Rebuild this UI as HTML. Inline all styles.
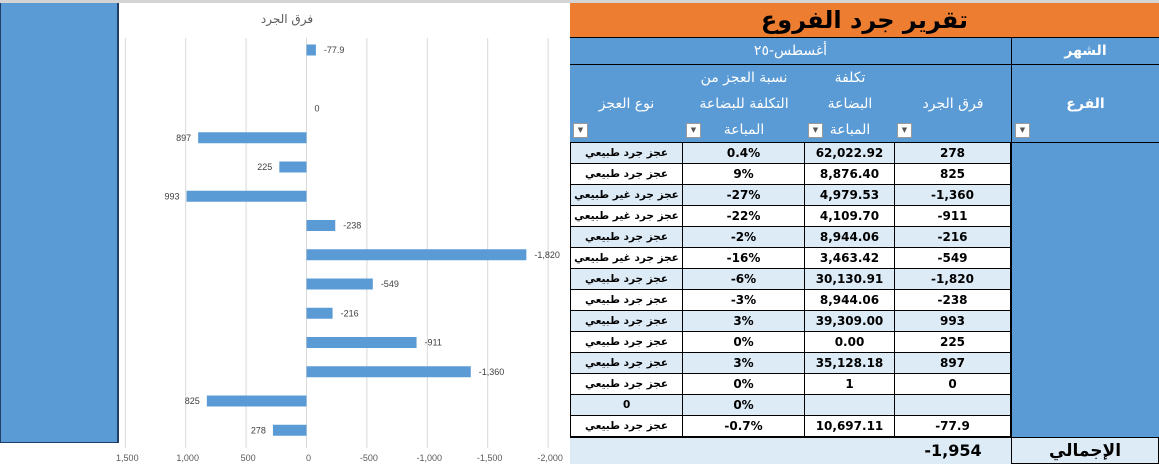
<!DOCTYPE html>
<html><head><meta charset="utf-8">
<style>
body{margin:0;width:1159px;height:464px;overflow:hidden;background:#fff;position:relative;font-family:"DejaVu Sans","Liberation Sans",sans-serif}
.abs{position:absolute;box-sizing:border-box}
.cell{position:absolute;box-sizing:border-box;display:flex;align-items:center;justify-content:center;font-size:12px;font-weight:bold;color:#000;border-right:1px solid #000;border-bottom:1px solid #000;white-space:nowrap;overflow:hidden}
.hd{position:absolute;box-sizing:border-box;color:#fff;font-size:14px;text-align:center;line-height:26px;border-left:1px solid #000}
.dd{position:absolute;width:15px;height:15px;background:#fff;border:1px solid #999;box-sizing:border-box;font-size:7px;color:#555;text-align:center;line-height:13px}
svg{overflow:visible}
</style></head><body>
<div class="abs" style="left:0;top:0;width:1159px;height:3px;background:#d4d4d4"></div>
<div class="abs" style="left:0;top:3px;width:119px;height:440px;background:#5b9bd5;border-right:2px solid #1f3f66;border-left:1px solid #1f3f66;border-bottom:1px solid #1f3f66"></div>
<svg class="abs" id="chart" style="left:119px;top:3px" width="451" height="461"></svg>

<div class="abs" style="left:570px;top:3px;width:589px;height:34px;background:#ed7d31;text-align:center;font-size:24px;font-weight:bold;line-height:34px" dir="rtl">تقرير جرد الفروع</div>
<div class="abs" style="left:570px;top:37px;width:589px;height:28px;background:#5b9bd5;border-top:1px solid #000;border-bottom:1px solid #000"></div>
<div class="hd" style="left:570px;top:38px;width:441px;border:none">أغسطس-٢٥</div>
<div class="hd" style="left:1011px;top:38px;width:148px;font-weight:bold">الشهر</div>
<div class="abs" style="left:570px;top:65px;width:589px;height:78px;background:#5b9bd5;border-bottom:1px solid #000"></div>
<div class="hd" style="left:1011px;top:65px;width:148px;height:78px;line-height:78px;font-weight:bold">الفرع</div>
<div class="hd" style="left:895px;top:65px;width:116px;height:78px;line-height:78px;border:none">فرق الجرد</div>
<div class="hd" style="left:805px;top:65px;width:90px;height:78px;line-height:26px;border:none">تكلفة<br>البضاعة<br>المباعة</div>
<div class="hd" style="left:683px;top:65px;width:122px;height:78px;line-height:26px;border:none">نسبة العجز من<br>التكلفة للبضاعة<br>المباعة</div>
<div class="hd" style="left:570px;top:65px;width:113px;height:78px;line-height:78px;border:none">نوع العجز</div>
<div class="dd" style="left:1015px;top:123px">▼</div>
<div class="dd" style="left:897px;top:123px">▼</div>
<div class="dd" style="left:808px;top:123px">▼</div>
<div class="dd" style="left:686px;top:123px">▼</div>
<div class="dd" style="left:573px;top:123px">▼</div>
<div class="abs" style="left:1011px;top:143px;width:148px;height:294px;background:#5b9bd5;border-left:1px solid #000"></div>
<div id="rows"></div>
<div class="abs" style="left:570px;top:437px;width:589px;height:27px;background:#ddebf7;border-top:1px solid #000"></div>
<div class="abs" style="left:895px;top:437px;width:116px;height:27px;line-height:27px;text-align:center;font-size:16px;font-weight:bold">-1,954</div>
<div class="abs" style="left:1011px;top:437px;width:148px;height:27px;line-height:27px;text-align:center;font-size:17px;font-weight:bold;border:1px solid #000">الإجمالي</div>

<script>
const diffs=["278","825","-1,360","-911","-216","-549","-1,820","-238","993","225","897","0","","-77.9"];
const costs=["62,022.92","8,876.40","4,979.53","4,109.70","8,944.06","3,463.42","30,130.91","8,944.06","39,309.00","0.00","35,128.18","1","","10,697.11"];
const ratios=["0.4%","9%","-27%","-22%","-2%","-16%","-6%","-3%","3%","0%","3%","0%","0%","-0.7%"];
const types=["عجز جرد طبيعي","عجز جرد طبيعي","عجز جرد غير طبيعي","عجز جرد غير طبيعي","عجز جرد طبيعي","عجز جرد غير طبيعي","عجز جرد طبيعي","عجز جرد طبيعي","عجز جرد طبيعي","عجز جرد طبيعي","عجز جرد طبيعي","عجز جرد طبيعي","0","عجز جرد طبيعي"];
// chart data (top to bottom)
const cats=["-77.9","","0","897","225","993","-238","-1,820","-549","-216","-911","-1,360","825","278"];
const vals=[-77.9,null,0,897,225,993,-238,-1820,-549,-216,-911,-1360,825,278];
const ticks=[1500,1000,500,0,-500,-1000,-1500,-2000];

const rowsEl=document.getElementById('rows');
const cols=[[895,116,diffs,'diff'],[805,90,costs,'cost'],[683,122,ratios,'ratio'],[570,113,types,'type']];
for(let i=0;i<diffs.length;i++){
  const y=143+i*21;
  cols.forEach(c=>{
    const d=document.createElement('div');
    d.className='cell';
    
    
    d.style.cssText=`left:${c[0]}px;top:${y}px;width:${c[1]}px;height:21px;background:${i%2?'#fff':'#ddebf7'};${c[0]==570?'border-left:1px solid #000;font-size:10.5px;letter-spacing:-0.3px;':''}`;
    d.textContent=c[2][i];
    rowsEl.appendChild(d);
  });
}
const NS='http://www.w3.org/2000/svg';
const svg=document.getElementById('chart');
const ox=119,oy=3;
const xs=v=>306.5-v*0.1208-ox;
const ys=i=>50+i*29.25-oy;
function el(t,a){const e=document.createElementNS(NS,t);for(const k in a)e.setAttribute(k,a[k]);svg.appendChild(e);return e;}
ticks.forEach(t=>{
  const g=el('line',{x1:xs(t),x2:xs(t),y1:35,y2:445,stroke:'#d9d9d9','stroke-width':1});
  
  
  const tx=el('text',{x:xs(t)+2,y:458,'text-anchor':'middle','font-size':9,fill:'#595959','font-family':'Liberation Sans, sans-serif'});
  
  
  tx.textContent=t.toLocaleString('en-US');
});
const ttl=el('text',{x:168,y:20,'text-anchor':'middle','font-size':12,fill:'#595959','font-family':'DejaVu Sans, sans-serif'});


ttl.textContent='فرق الجرد';
vals.forEach((v,i)=>{
  if(v===null)return;
  const x0=xs(0),x1=xs(v),y=ys(i);
  if(v!==0){
    const r=el('rect',{x:Math.min(x0,x1),y:y-5.5,width:Math.abs(x1-x0),height:11,fill:'#5b9bd5'});
    
    
  }
  const left=v>0;
  const lb=el('text',{x:left?x1-7:x1+8,y:y+3,'text-anchor':left?'end':'start','font-size':9,fill:'#404040','font-family':'Liberation Sans, sans-serif'});
  
  
  lb.textContent=cats[i];
});
</script>
</body></html>
